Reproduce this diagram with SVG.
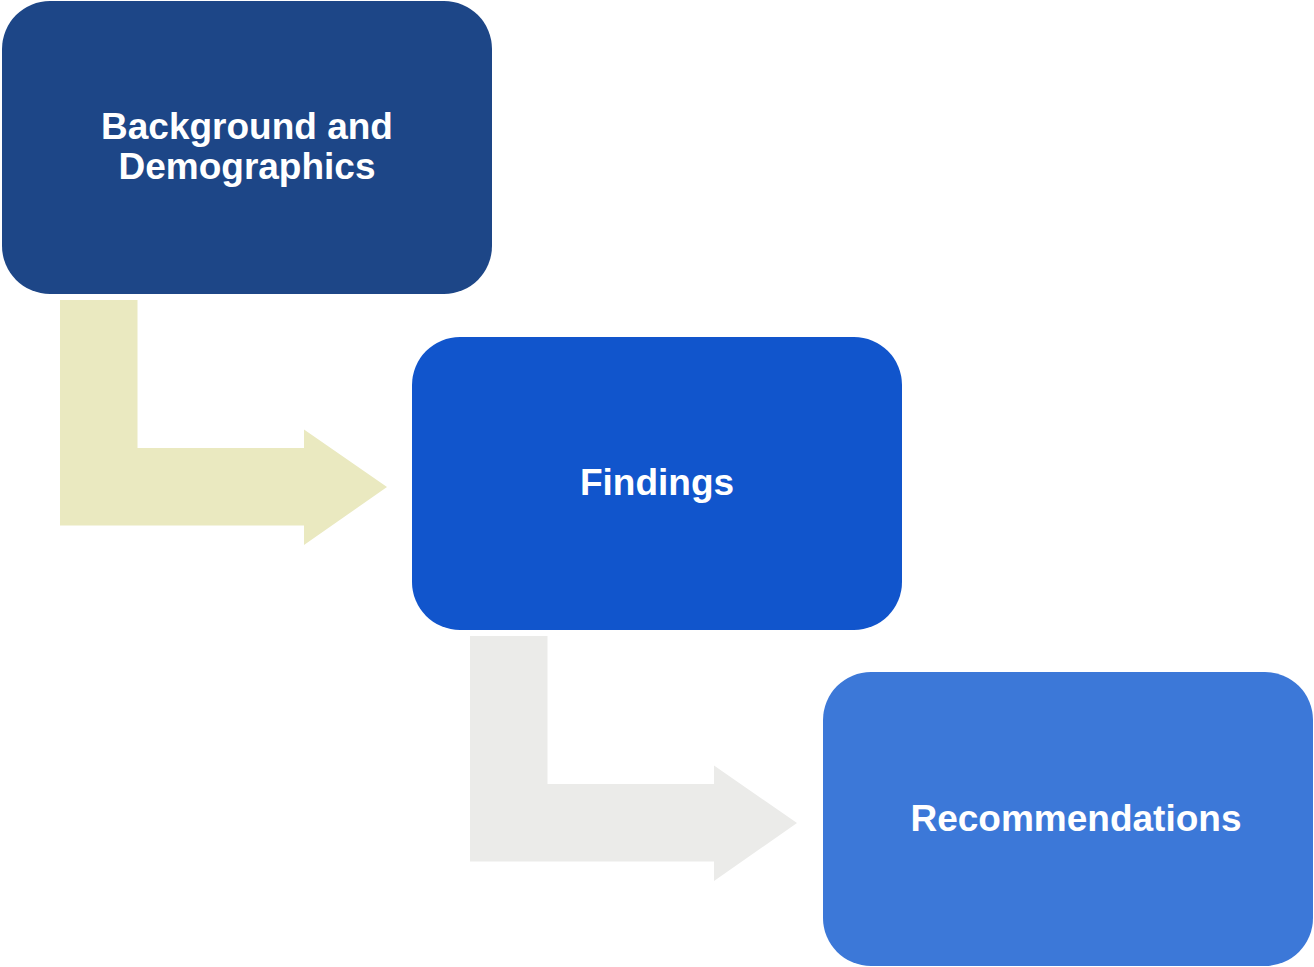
<svg xmlns="http://www.w3.org/2000/svg" width="1314" height="967" viewBox="0 0 1314 967">
<style>
.lbl{font-family:"Liberation Sans",Arial,sans-serif;font-weight:bold;font-size:37px;fill:#ffffff;text-anchor:middle}
</style>
<rect width="1314" height="967" fill="#ffffff"/>
<g id="connectors">
<path d="M60,300 H137.5 V448 H304 V429.5 L387,487 L304,545 V525.5 H60 Z" fill="#EAE9C0"/>
<path d="M470,636 H547.5 V784 H714 V765.5 L797,823 L714,881 V861.5 H470 Z" fill="#EBEBE9"/>
</g>
<g id="node1">
<rect x="2" y="1" width="490" height="293" rx="48" fill="#1D4687"/>
<text class="lbl" x="247" y="139">Background and</text>
<text class="lbl" x="247" y="179">Demographics</text>
</g>
<g id="node2">
<rect x="412" y="337" width="490" height="293" rx="48" fill="#1155CC"/>
<text class="lbl" x="657" y="495">Findings</text>
</g>
<g id="node3">
<rect x="823" y="672" width="490" height="294" rx="48" fill="#3C78D8"/>
<text class="lbl" x="1076" y="831">Recommendations</text>
</g>
</svg>
